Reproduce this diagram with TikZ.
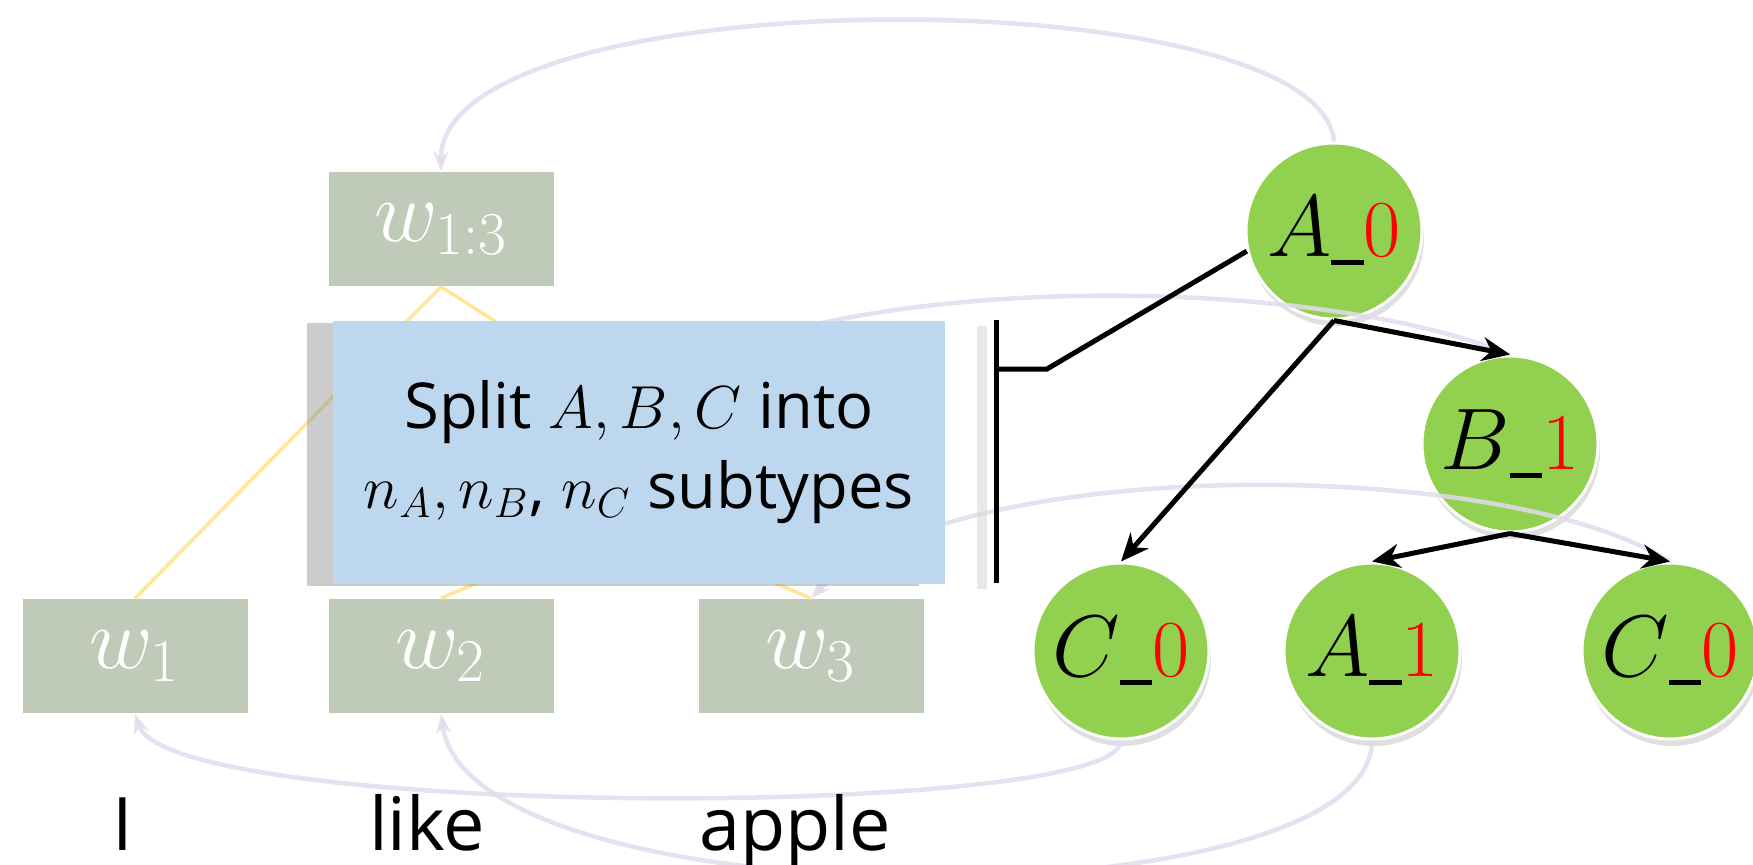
\documentclass[tikz,border=0pt]{standalone}
\usepackage{fontspec}
\setsansfont{Open Sans}
\usetikzlibrary{positioning,arrows.meta,shadows}
\definecolor{boxblue}{RGB}{189,215,238}
\definecolor{wordgreen}{RGB}{191,202,184}
\definecolor{nodegreen}{RGB}{146,208,80}
\definecolor{linkpurple}{RGB}{226,218,238}
\definecolor{treeyellow}{RGB}{255,230,153}
\newcommand{\lowbar}{\rule[-0.1em]{0.4em}{0.06em}}

\begin{document}
\begin{tikzpicture}[x=0.1mm,y=-0.1mm,
  wordbox/.style={fill=wordgreen,text=white,minimum width=22.5mm,minimum height=11.4mm,inner sep=0pt,font=\fontsize{25}{30}\selectfont},
  tagnode/.style={circle,fill=nodegreen,draw=white,line width=0.3mm,minimum size=17.6mm,inner sep=0pt,font=\fontsize{23}{28}\selectfont,drop shadow={shadow xshift=0.2mm,shadow yshift=-0.7mm,opacity=0.25}},
  splitbox/.style={fill=boxblue,minimum width=61.2mm,minimum height=26.3mm,align=center,font=\sffamily\fontsize{18}{22.8}\selectfont,drop shadow={shadow xshift=-2.6mm,shadow yshift=-0.2mm,opacity=0.4}},
  link/.style={linkpurple,line width=0.45mm,opacity=0.85,-{Stealth[length=2mm,width=1.5mm]}},
  treeedge/.style={treeyellow,line width=0.35mm},
  branch/.style={black,line width=0.5mm,-{Stealth[length=2.8mm,width=2.4mm]}},
  wordlabel/.style={anchor=base,font=\sffamily\fontsize{21}{25}\selectfont}]

\useasboundingbox (0,0) rectangle (1753,865);

% tree of subtypes
\node[tagnode] (A0) at (1334,231) {$A$\lowbar\textcolor{red}{0}};
\node[tagnode] (B1) at (1510,444) {$B$\lowbar\textcolor{red}{1}};
\node[tagnode] (C0l) at (1121,651) {$C$\lowbar\textcolor{red}{0}};
\node[tagnode] (A1) at (1372,651) {$A$\lowbar\textcolor{red}{1}};
\node[tagnode] (C0r) at (1670,651) {$C$\lowbar\textcolor{red}{0}};

% word boxes
\node[wordbox] (w13) at (441,229) {$w_{1:3}$};
\node[wordbox] (w1) at (135,656) {$w_1$};
\node[wordbox] (w2) at (441,656) {$w_2$};
\node[wordbox] (w3) at (811,656) {$w_3$};
\coordinate (w23top) at (626,405);
\coordinate (w23bot) at (626,520);

% links from subtypes to spans
\draw[link] (A0.north) .. controls (1320,-24) and (440,-24) .. (w13.north);
\draw[link] (B1.north) .. controls (1300,270) and (800,270) .. (w23top);
\draw[link] (C0r.north) .. controls (1500,455) and (950,455) .. (w3.north);
\draw[link] (C0l.south) .. controls (1121,820) and (170,820) .. (w1.south);
\draw[link] (A1.south) .. controls (1372,925) and (470,925) .. (w2.south);

\draw[treeedge] (w13.south) -- (w1.north);
\draw[treeedge] (w13.south) -- (w23top);
\draw[treeedge] (w2.north) -- (w23bot);
\draw[treeedge] (w3.north) -- (w23bot);

\node[splitbox] (split) at (639,452) {Split $A,B,C$ into\\$n_A,n_B$, $n_C$ subtypes};

% bracket
\coordinate (brtop) at (996,320);
\coordinate (brbot) at (996,583);
\coordinate (brtick) at (996,369);
\coordinate (brknee) at (1047,369);
\draw[black!15,line width=1mm,opacity=0.6] (982,326) -- (982,589);
\draw[line width=0.5mm] (brtop) -- (brbot);
\draw[line width=0.5mm] (brtick) -- (brknee) -- (A0.193);

\draw[branch] (A0.south) -- (B1.north);
\draw[branch] (A0.south) -- (C0l.north);
\draw[branch] (B1.south) -- (A1.north);
\draw[branch] (B1.south) -- (C0r.north);

\node[wordlabel] (wI) at (123,850) {I};
\node[wordlabel] (wlike) at (427,850) {like};
\node[wordlabel] (wapple) at (795,850) {apple};
\end{tikzpicture}
\end{document}
